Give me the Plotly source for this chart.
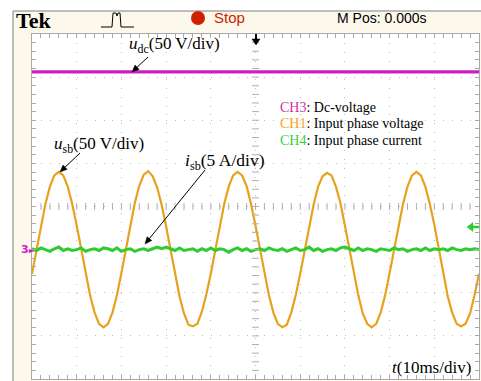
import numpy as np
import plotly.graph_objects as go

# ---------------- data ----------------
# time axis: 10 ms/div, 10 divisions
t_ms = list(range(0, 101))

# CH1 input phase voltage u_sb (V), 50 V/div
u_sb = [
    -28, 0, 28, 53, 73, 86, 90, 86, 73, 53, 28, 0, -28, -53, -73, -86, -90, -86, -73, -53,
    -27, 1, 29, 54, 74, 87, 91, 85, 72, 52, 27, -1, -29, -54, -74, -87, -89, -86, -72, -52,
    -28, 0, 27, 53, 73, 86, 90, 86, 74, 53, 28, 1, -28, -53, -73, -86, -90, -87, -73, -53,
    -28, 0, 28, 52, 73, 85, 89, 86, 73, 54, 28, 0, -27, -53, -74, -86, -90, -86, -73, -53,
    -27, 1, 28, 53, 73, 86, 90, 86, 73, 53, 29, 0, -28, -54, -73, -86, -89, -86, -74, -53,
    -28,
]

# CH4 input phase current i_sb (A), 5 A/div
i_sb = [
    0.1, -0.1, 0.2, 0.0, -0.2, 0.1, 0.3, -0.1, 0.1, -0.1,
    0.0, 0.2, -0.2, 0.0, 0.1, -0.1, 0.2, 0.1, -0.1, 0.2,
    -0.2, 0.0, 0.1, -0.2, 0.0, 0.1, -0.1, 0.1, 0.3, 0.1,
    0.3, 0.1, -0.1, 0.2, -0.1, 0.0, 0.1, -0.2, 0.1, -0.1,
    0.2, -0.1, 0.1, 0.0, -0.3, 0.0, 0.2, -0.1, 0.1, -0.2,
    0.0, 0.1, -0.1, 0.2, 0.0, -0.1, 0.1, -0.2, 0.0, 0.2,
    -0.1, 0.0, 0.3, -0.1, 0.1, -0.2, 0.0, 0.1, -0.1, 0.2,
    0.3, 0.1, -0.1, 0.2, -0.1, 0.1, 0.0, -0.2, 0.1, 0.0,
    -0.1, 0.2, 0.0, 0.1, -0.2, 0.0, 0.1, -0.1, 0.2, -0.1,
    0.1, 0.0, 0.1, -0.1, 0.2, 0.0, -0.1, 0.1, 0.0, 0.1, 0.0,
]

# CH3 dc voltage u_dc (V), 50 V/div
t_dc = [0, 100]
u_dc = [206, 206]

# channel scales (units per division) and ground level (divisions)
V_PER_DIV = 50
A_PER_DIV = 5
GROUND_DIV = -1

legend_lines = [("CH3", ": Dc-voltage", "#d12fa6"),
                ("CH1", ": Input phase voltage", "#f7a21b"),
                ("CH4", ": Input phase current", "#36d436")]

# ---------------- geometry helpers ----------------
L, R, T, B = 32, 2, 34, 2
W, H = 481, 381
PW, PH = W - L - R, H - T - B


def px2x(px):
    return (px - L) / PW * 100.0


def px2y(py):
    return (T + PH / 2 - py) / (PH / 8.0)


def ppx(px):
    return (px - L) / PW


def ppy(py):
    return (H - B - py) / PH


def arrow_shapes(tail, head, color, width, hl=7.0, hw=3.0):
    (tx, ty), (hx, hy) = tail, head
    d = np.array([hx - tx, hy - ty], dtype=float)
    d /= np.hypot(*d)
    n = np.array([-d[1], d[0]])
    base = np.array([hx, hy]) - hl * d
    p1 = base + hw * n
    p2 = base - hw * n
    line = dict(type="line", xref="paper", yref="paper",
                x0=ppx(tx), y0=ppy(ty), x1=ppx(base[0] + 0.5 * hl * d[0]),
                y1=ppy(base[1] + 0.5 * hl * d[1]),
                line=dict(color=color, width=width))
    tri = dict(type="path", xref="paper", yref="paper",
               path=(f"M {ppx(hx)},{ppy(hy)} L {ppx(p1[0])},{ppy(p1[1])} "
                     f"L {ppx(p2[0])},{ppy(p2[1])} Z"),
               fillcolor=color, line=dict(color=color, width=0.5))
    return [line, tri]


fig = go.Figure()

fig.add_trace(go.Scatter(x=t_dc, y=[GROUND_DIV + v / V_PER_DIV for v in u_dc],
                         mode="lines", line=dict(color="#cc1fbf", width=3.2),
                         hoverinfo="skip"))
fig.add_trace(go.Scatter(x=t_ms, y=[GROUND_DIV + v / V_PER_DIV for v in u_sb],
                         mode="lines", line=dict(color="#e6a21c", width=2.2),
                         hoverinfo="skip"))
fig.add_trace(go.Scatter(x=t_ms, y=[GROUND_DIV + v / A_PER_DIV for v in i_sb],
                         mode="lines", line=dict(color="#2ecc2e", width=3),
                         hoverinfo="skip"))

# graticule centre-line ticks
cx = np.arange(2, 100, 2)
fig.add_trace(go.Scatter(x=cx, y=[0] * len(cx), mode="markers",
                         marker=dict(symbol="line-ns", size=5,
                                     line=dict(color="#b0b0b0", width=1)),
                         hoverinfo="skip"))
cy = np.arange(-3.8, 3.81, 0.2)
fig.add_trace(go.Scatter(x=[50] * len(cy), y=cy, mode="markers",
                         marker=dict(symbol="line-ew", size=5,
                                     line=dict(color="#b0b0b0", width=1)),
                         hoverinfo="skip"))

ann = []
serif = "Liberation Serif"
# channel labels
ann.append(dict(x=px2x(127), y=px2y(45), xanchor="left", yanchor="middle",
                text="<i>u</i><sub>dc</sub>(50 V/div)", showarrow=False,
                font=dict(family=serif, size=17, color="black")))
ann.append(dict(x=px2x(52), y=px2y(145), xanchor="left", yanchor="middle",
                text="<i>u</i><sub>sb</sub>(50 V/div)", showarrow=False,
                font=dict(family=serif, size=17, color="black")))
ann.append(dict(x=px2x(183), y=px2y(161), xanchor="left", yanchor="middle",
                text="<i>i</i><sub>sb</sub>(5 A/div)", showarrow=False,
                font=dict(family=serif, size=17.5, color="black")))
ann.append(dict(x=px2x(473), y=px2y(367), xanchor="right", yanchor="middle",
                text="<i>t</i>(10ms/div)", showarrow=False,
                font=dict(family=serif, size=17, color="black")))
# legend
for k, (ch, desc, col) in enumerate(legend_lines):
    ann.append(dict(x=px2x(278), y=px2y(107 + 16.5 * k), xanchor="left", yanchor="middle",
                    text=f"<span style='color:{col}'>{ch}</span>{desc}", showarrow=False,
                    font=dict(family=serif, size=14, color="black")))
# ground marker (left)
ann.append(dict(xref="paper", yref="y", x=ppx(19), y=GROUND_DIV, xanchor="left",
                yanchor="middle",
                text="<b>3</b><span style='font-size:8px'>►</span>", showarrow=False,
                font=dict(family="DejaVu Sans", size=11, color="#cc1fbf")))
# header
ann.append(dict(xref="paper", yref="paper", x=ppx(14), y=ppy(21), xanchor="left",
                yanchor="middle", text="<b>Tek</b>", showarrow=False,
                font=dict(family=serif, size=22, color="black")))
ann.append(dict(xref="paper", yref="paper", x=ppx(212), y=ppy(18), xanchor="left",
                yanchor="middle", text="Stop", showarrow=False,
                font=dict(family="Liberation Sans", size=15, color="#cc2200")))
ann.append(dict(xref="paper", yref="paper", x=ppx(335), y=ppy(18), xanchor="left",
                yanchor="middle", text="M Pos: 0.000s", showarrow=False,
                font=dict(family="Liberation Sans", size=14, color="black")))

shapes = [
    # white outer strips
    dict(type="rect", xref="paper", yref="paper", x0=ppx(0), x1=ppx(W), y0=ppy(11), y1=ppy(0),
         fillcolor="white", line=dict(width=0), layer="below"),
    dict(type="rect", xref="paper", yref="paper", x0=ppx(0), x1=ppx(13), y0=ppy(H), y1=ppy(0),
         fillcolor="white", line=dict(width=0), layer="below"),
    dict(type="line", xref="paper", yref="paper", x0=ppx(13), x1=ppx(13), y0=ppy(H), y1=ppy(11),
         line=dict(color="#a8a8a8", width=1.5), layer="below"),
    dict(type="line", xref="paper", yref="paper", x0=ppx(13), x1=ppx(W), y0=ppy(11), y1=ppy(11),
         line=dict(color="#a8a8a8", width=1.5), layer="below"),
    # stop dot
    dict(type="circle", xref="paper", yref="paper", x0=ppx(191), x1=ppx(205),
         y0=ppy(25), y1=ppy(11), fillcolor="#cc2200", line=dict(width=0)),
    # acquisition pulse icon
    dict(type="path", xref="paper", yref="paper",
         path=(f"M {ppx(101)},{ppy(27)} L {ppx(112)},{ppy(27)} L {ppx(113)},{ppy(13)} "
               f"L {ppx(116)},{ppy(13)} L {ppx(117)},{ppy(16)} L {ppx(118)},{ppy(13)} "
               f"L {ppx(120)},{ppy(13)} L {ppx(121)},{ppy(27)} L {ppx(134)},{ppy(27)}"),
         line=dict(color="black", width=1)),
]
# label pointer arrows
for tail, head in [((148, 57), (132, 72)), ((80, 153), (60, 172)), ((205, 170), (145, 244))]:
    shapes += arrow_shapes(tail, head, "black", 1)
# trigger position marker (top) and trigger level marker (right)
shapes += arrow_shapes((256, 34), (256, 45), "black", 2, hl=6, hw=4)
shapes += arrow_shapes((479, 227), (467, 227), "#2ecc2e", 2.5, hl=6, hw=4.5)

axis_common = dict(showticklabels=False, showline=True, linecolor="#a8a8a8", linewidth=1,
                   mirror="allticks", ticks="inside", ticklen=4, tickcolor="#a8a8a8",
                   showgrid=True, gridcolor="#bcbcbc", gridwidth=1, griddash="1px,7.94px",
                   zeroline=False, fixedrange=True)

fig.update_layout(
    width=W, height=H,
    margin=dict(l=L, r=R, t=T, b=B),
    paper_bgcolor="#fdf8ec",
    plot_bgcolor="white",
    showlegend=False,
    xaxis=dict(range=[0, 100], dtick=10,
               minor=dict(dtick=2, ticks="inside", ticklen=4, tickcolor="#a8a8a8", showgrid=False),
               **axis_common),
    yaxis=dict(range=[-4, 4], dtick=1,
               minor=dict(dtick=0.2, ticks="inside", ticklen=4, tickcolor="#a8a8a8", showgrid=False),
               **axis_common),
    annotations=ann,
    shapes=shapes,
)

fig.write_html("out.html")
